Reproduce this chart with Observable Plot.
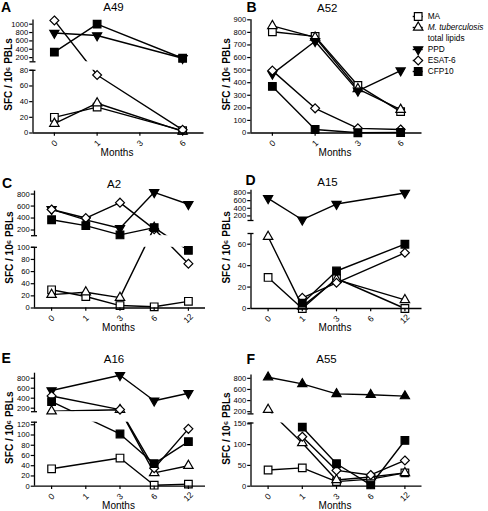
<!DOCTYPE html>
<html><head><meta charset="utf-8">
<script src="https://cdn.jsdelivr.net/npm/d3@7"></script>
<script src="https://cdn.jsdelivr.net/npm/@observablehq/plot@0.6"></script>
<style>
body{margin:0;background:#fff;}
#chart{position:relative;width:488px;height:511px;overflow:hidden;}
#chart svg{position:absolute;left:0;top:0;}
</style></head><body><div id="chart"></div>
<script>
// ---------- data ----------
const seriesNames = ["MA", "M. tuberculosis total lipids", "PPD", "ESAT-6", "CFP10"];
const yLabel = "SFC / 10⁶ PBLs";
const xLabel = "Months";

// A – A49
const a49Months = ["0", "1", "3", "6"];
const a49MA     = [20, 33, null, 3];
const a49Lipids = [12, 38, null, 2];
const a49PPD    = [790, 730, null, 185];
const a49ESAT6  = [1090, 74, null, 4];
const a49CFP10  = [330, 1000, null, 185];
const a49Ticks  = [0, 20, 40, 60, 80, 200, 400, 600, 800, 1000];

// B – A52
const a52Months = ["0", "1", "3", "6"];
const a52MA     = [805, 768, 378, 170];
const a52Lipids = [852, 760, 350, 186];
const a52PPD    = [470, 730, 335, 496];
const a52ESAT6  = [496, 196, 37, 28];
const a52CFP10  = [370, 28, 2, 4];
const a52Ticks  = [0, 100, 200, 300, 400, 500, 600, 700, 800, 900];

// C – A2
const a2Months = ["0", "1", "3", "6", "12"];
const a2MA     = [30, 19, 4, 2, 11];
const a2Lipids = [22, 26, 17, 240, null];
const a2PPD    = [545, 370, 230, 830, 630];
const a2ESAT6  = [543, 400, 657, 215, 73];
const a2CFP10  = [371, 274, 118, 240, 95];
const a2Ticks  = [0, 20, 40, 60, 80, 100, 200, 400, 600, 800];

// D – A15
const a15Months = ["0", "1", "3", "6", "12"];
const a15MA     = [29, 0, 28, null, 0];
const a15Lipids = [67, 2, 27, null, 8];
const a15PPD    = [660, 100, 510, null, 800];
const a15ESAT6  = [null, 10, 24, null, 52];
const a15CFP10  = [null, 5, 35, null, 60];
const a15Ticks  = [0, 20, 40, 60, 200, 400, 600, 800];

// E – A16
const a16Months = ["0", "1", "3", "6", "12"];
const a16MA     = [34, null, 55, 2, 4];
const a16Lipids = [140, null, 168, 26, 40];
const a16PPD    = [555, null, 860, 350, 500];
const a16ESAT6  = [445, null, 172, 35, 112];
const a16CFP10  = [330, null, 102, 44, 87];
const a16Ticks  = [0, 20, 40, 60, 80, 100, 120, 200, 400, 600, 800];

// F – A55
const a55Months = ["0", "1", "3", "6", "12"];
const a55MA     = [39, 44, 11, 17, 32];
const a55Lipids = [235, 104, 15, 22, 32];
const a55PPD    = [820, 700, 520, 505, 480];
const a55ESAT6  = [null, 119, 38, 27, 62];
const a55CFP10  = [null, 142, 54, 3, 110];
const a55Ticks  = [0, 50, 100, 150, 200, 400, 600, 800];

// ---------- styles / layout ----------
const FONT = '"Liberation Sans", Arial, Helvetica, sans-serif';
const W = 488, H = 511, AXLEN = 171;
const triangleDown = {
  draw(ctx, size) {
    const y = -Math.sqrt(size / (Math.sqrt(3) * 3));
    ctx.moveTo(0, -y * 2);
    ctx.lineTo(-Math.sqrt(3) * y, y);
    ctx.lineTo(Math.sqrt(3) * y, y);
    ctx.closePath();
  }
};
const styles = [
  {symbol: "square", fill: "white", r: 4.3},
  {symbol: "triangle", fill: "white", r: 3.5},
  {symbol: triangleDown, fill: "black", r: 3.4},
  {symbol: "diamond2", fill: "white", r: 4.0},
  {symbol: "square", fill: "black", r: 4.3}
];
const stylesF = styles.map((s, i) => i === 2 ? {symbol: "triangle", fill: "black", r: 3.4} : s);

const panels = [
  {letter: "A", title: "A49", months: a49Months, series: [a49MA, a49Lipids, a49PPD, a49ESAT6, a49CFP10], ticks: a49Ticks,
   L: {x0: 32.5, titleX: 113, titleY: 6.7, letterX: 0.5, letterY: 6.7,
       segs: [{lo: 0, hi: 80, yLo: 132.5, yHi: 69.8}, {lo: 100, hi: 1100, yLo: 61.3, yHi: 19.5}]}},
  {letter: "B", title: "A52", months: a52Months, series: [a52MA, a52Lipids, a52PPD, a52ESAT6, a52CFP10], ticks: a52Ticks,
   L: {x0: 250.5, titleX: 326.7, titleY: 7.5, letterX: 246, letterY: 6.7,
       segs: [{lo: 0, hi: 900, yLo: 132.5, yHi: 19.3}]}},
  {letter: "C", title: "A2", months: a2Months, series: [a2MA, a2Lipids, a2PPD, a2ESAT6, a2CFP10], ticks: a2Ticks,
   L: {x0: 34, titleX: 113.5, titleY: 184, letterX: 1.5, letterY: 183,
       segs: [{lo: 0, hi: 100, yLo: 307.5, yHi: 246.8}, {lo: 105, hi: 850, yLo: 235.2, yHi: 190.6}]}},
  {letter: "D", title: "A15", months: a15Months, series: [a15MA, a15Lipids, a15PPD, a15ESAT6, a15CFP10], ticks: a15Ticks,
   L: {x0: 250.5, titleX: 327, titleY: 181.7, letterX: 245, letterY: 180.5,
       segs: [{lo: 0, hi: 70, yLo: 308, yHi: 233}, {lo: 80, hi: 870, yLo: 220, yHi: 189.8}]}},
  {letter: "E", title: "A16", months: a16Months, series: [a16MA, a16Lipids, a16PPD, a16ESAT6, a16CFP10], ticks: a16Ticks,
   L: {x0: 34, titleX: 113.5, titleY: 358.7, letterX: 1, letterY: 357.8,
       segs: [{lo: 0, hi: 125, yLo: 485.7, yHi: 421.7}, {lo: 130, hi: 900, yLo: 411.2, yHi: 372.7}]}},
  {letter: "F", title: "A55", months: a55Months, series: [a55MA, a55Lipids, a55PPD, a55ESAT6, a55CFP10], ticks: a55Ticks, styles: stylesF,
   L: {x0: 250.5, titleX: 326, titleY: 359.3, letterX: 246, letterY: 359.5,
       segs: [{lo: 0, hi: 152, yLo: 485.7, yHi: 422.5}, {lo: 160, hi: 860, yLo: 413.4, yHi: 374.5}]}}
];

const baseStyle = {fontFamily: FONT, fontSize: "7.6px", background: "transparent", overflow: "visible", color: "black"};

// broken (segmented) value axis -> pixel position
function segmentedScale(segs) {
  return v => {
    for (const g of segs) if (v >= g.lo && v <= g.hi) return g.yLo + (v - g.lo) / (g.hi - g.lo) * (g.yHi - g.yLo);
    for (let k = 0; k < segs.length - 1; k++) {
      const a = segs[k], b = segs[k + 1];
      if (v > a.hi && v < b.lo) return a.yHi + (v - a.hi) / (b.lo - a.hi) * (b.yLo - a.yHi);
    }
    return NaN;
  };
}

function drawPanel(p) {
  const L = p.L, n = p.months.length, segs = L.segs, pw = segmentedScale(segs);
  const top = Math.min(...segs.map(g => g.yHi)), bottom = segs[0].yLo;
  const rows = [];
  p.series.forEach((vals, s) => vals.forEach((v, i) => { if (v !== null) rows.push({s, i, v, y: pw(v)}); }));
  const gaps = segs.slice(1).map((g, k) => ({y1: segs[k].yHi, y2: g.yLo}));
  const breaks = gaps.flatMap(g => [g.y1, g.y2]);
  const tickPx = p.ticks.map(pw);
  const tickLabel = new Map(tickPx.map((px, k) => [px, String(p.ticks[k])]));
  const xMin = -0.5, xMax = n - 0.5;
  const sty = p.styles || styles;
  return Plot.plot({
    width: W, height: H,
    marginLeft: L.x0, marginRight: W - L.x0 - AXLEN, marginTop: top, marginBottom: H - bottom,
    x: {domain: [xMin, xMax], label: null},
    y: {domain: [bottom, top], range: [bottom, top], label: null},
    style: baseStyle,
    marks: [
      Plot.line(rows, {x: "i", y: "y", z: "s", stroke: "black", strokeWidth: 1.4}),
      Plot.rect(gaps, {x1: xMin, x2: xMax, y1: "y1", y2: "y2", fill: "white"}),
      ...sty.map((st, s) => Plot.dot(rows.filter(d => d.s === s), {
        x: "i", y: "y", symbol: st.symbol, r: st.r, fill: st.fill, stroke: "black", strokeWidth: 1.2})),
      Plot.ruleX(segs, {x: xMin, y1: "yLo", y2: "yHi", strokeWidth: 1.3}),
      Plot.ruleY(breaks, {y: d => d, x1: xMin, x2: xMin, insetLeft: -3, insetRight: -3, strokeWidth: 1.3}),
      Plot.ruleY([bottom], {strokeWidth: 1.3}),
      Plot.axisY({ticks: tickPx, tickFormat: d => tickLabel.get(d), tickSize: 3.3, tickPadding: 1.5, label: null, strokeWidth: 1.2}),
      Plot.axisX({ticks: d3.range(n), tickFormat: () => "", tickSize: 3.3, label: null, strokeWidth: 1.2}),
      Plot.text(d3.range(n), {x: d => d, y: () => bottom + 10.5, text: d => p.months[d], rotate: -45, fontSize: 8.5})
    ]
  });
}

// ---------- annotations (letters, titles, axis titles, legend) ----------
const legendEntries = [
  {row: 0, label: "MA", italic: false},
  {row: 1, label: "M. tuberculosis", italic: true},
  {row: 2, label: "total lipids", italic: false},
  {row: 3, label: "PPD", italic: false},
  {row: 4, label: "ESAT-6", italic: false},
  {row: 5, label: "CFP10", italic: false}
];
const legendSymbolRows = [0, 1, 3, 4, 5];

function drawAnnotations() {
  const ann = [];
  panels.forEach(p => {
    const L = p.L, segs = L.segs;
    const top = Math.min(...segs.map(g => g.yHi)), bottom = segs[0].yLo;
    ann.push({kind: "letter", x: L.letterX, y: L.letterY, t: p.letter});
    ann.push({kind: "title", x: L.titleX, y: L.titleY, t: p.title});
    ann.push({kind: "ylabel", x: L.x0 - 24.5, y: (top + bottom) / 2 - 2, t: yLabel});
    ann.push({kind: "xlabel", x: L.x0 + AXLEN / 2 - 1.5, y: bottom + 19.5, t: xLabel});
  });
  const leg = {x0: 412.7, x1: 422.7, xt: 427.2, y0: 16, dy: 11};
  const legY = r => leg.y0 + r * leg.dy;
  return Plot.plot({
    width: W, height: H, margin: 0,
    x: {domain: [0, W], range: [0, W], axis: null},
    y: {domain: [0, H], range: [0, H], axis: null},
    style: baseStyle,
    marks: [
      Plot.text(ann.filter(d => d.kind === "letter"), {x: "x", y: "y", text: "t", textAnchor: "start", fontWeight: "bold", fontSize: 14}),
      Plot.text(ann.filter(d => d.kind === "title"), {x: "x", y: "y", text: "t", fontSize: 11.5}),
      Plot.text(ann.filter(d => d.kind === "ylabel"), {x: "x", y: "y", text: "t", rotate: -90, fontWeight: "bold", fontSize: 10}),
      Plot.text(ann.filter(d => d.kind === "xlabel"), {x: "x", y: "y", text: "t", fontSize: 10}),
      Plot.ruleY(legendSymbolRows, {y: legY, x1: leg.x0, x2: leg.x1, strokeWidth: 1.4}),
      ...styles.map((st, s) => Plot.dot([legendSymbolRows[s]], {
        x: () => (leg.x0 + leg.x1) / 2, y: legY, symbol: st.symbol, r: st.r, fill: st.fill, stroke: "black", strokeWidth: 1.2})),
      Plot.text(legendEntries.filter(d => !d.italic), {x: () => leg.xt, y: d => legY(d.row), text: "label", textAnchor: "start", fontSize: 8.3}),
      Plot.text(legendEntries.filter(d => d.italic), {x: () => leg.xt, y: d => legY(d.row), text: "label", textAnchor: "start", fontSize: 8.3, fontStyle: "italic"})
    ]
  });
}

const chart = document.getElementById("chart");
panels.forEach(p => chart.appendChild(drawPanel(p)));
chart.appendChild(drawAnnotations());
</script>
</body></html>
